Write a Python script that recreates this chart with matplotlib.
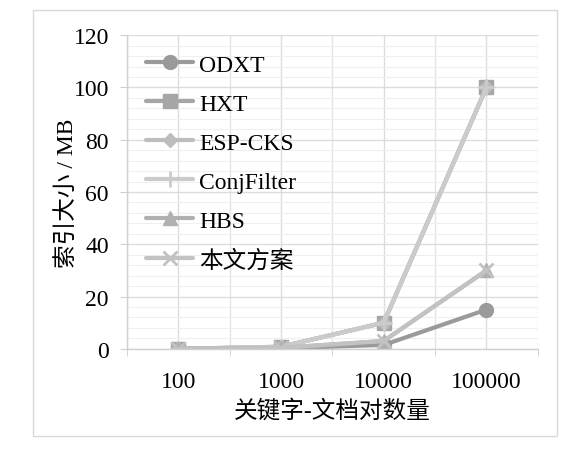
import numpy as np
from matplotlib import pyplot as plt
from matplotlib.patches import Rectangle

plt.rcParams['font.family'] = ['Liberation Serif', 'Noto Sans CJK SC']

# данные
categories = ['100', '1000', '10000', '100000']
odxt = [0, 0.2, 1.5, 15]
hxt = [0, 0.8, 10, 100]
esp_cks = [0, 0.8, 10, 100]
conjfilter = [0, 0.8, 10, 100]
hbs = [0, 0.4, 3, 30]
ours = [0, 0.4, 3, 30]

series = [
    ('ODXT', odxt, '#9a9a9a', 'o', 10),
    ('HXT', hxt, '#a6a6a6', 's', 9.5),
    ('ESP-CKS', esp_cks, '#bdbdbd', 'D', 7.5),
    ('ConjFilter', conjfilter, '#cbcbcb', '+', 11),
    ('HBS', hbs, '#b0b0b0', '^', 10),
    ('本文方案', ours, '#c2c2c2', 'x', 10),
]

fig = plt.figure(figsize=(5.77, 4.52), dpi=100)
ax = fig.add_axes([0.220, 0.226, 0.712, 0.694])

x = np.arange(len(categories))
for name, vals, col, mk, ms in series:
    ax.plot(x, vals, color=col, lw=3, marker=mk, ms=ms,
            mew=2 if mk in '+x' else 1, mec=col, mfc=col, label=name,
            solid_capstyle='round')

# оси
ax.set_xlim(-0.5, 3.5)
ax.set_ylim(0, 120)
ax.set_yticks(np.arange(0, 121, 20))
ax.set_yticks(np.arange(0, 121, 4), minor=True)
ax.set_xticks(x)
ax.set_xticklabels(categories)
ax.set_xticks(np.arange(-0.5, 3.6, 1), minor=True)

ax.grid(True, which='major', color='#dcdcdc', lw=1)
ax.grid(True, which='minor', axis='y', color='#efefef', lw=0.8)
ax.grid(True, which='minor', axis='x', color='#e4e4e4', lw=1)
ax.set_axisbelow(True)

for s in ['top', 'right']:
    ax.spines[s].set_visible(False)
for s in ['left', 'bottom']:
    ax.spines[s].set_color('#d0d0d0')
    ax.spines[s].set_linewidth(1)

ax.tick_params(axis='y', which='major', length=5, color='#d0d0d0',
               labelsize=17, pad=8)
ax.tick_params(axis='y', which='minor', length=0)
ax.tick_params(axis='x', which='major', length=0, labelsize=17, pad=16)
ax.tick_params(axis='x', which='minor', length=5, color='#d0d0d0')

ax.set_xlabel('关键字-文档对数量', fontsize=17, labelpad=5)
ax.set_ylabel('索引大小 / MB', fontsize=17, labelpad=-3)

ax.legend(loc='upper left', bbox_to_anchor=(0.047, 0.94), frameon=False,
          fontsize=17, handlelength=2.0, labelspacing=0.74,
          handletextpad=0.25, borderaxespad=0.0, borderpad=0.0)

# рамка вокруг рисунка
fig.patches.append(Rectangle((33 / 577, 1 - 437 / 452), 524 / 577, 426 / 452,
                             transform=fig.transFigure, fill=False,
                             edgecolor='#d9d9d9', lw=1))

plt.savefig('out.png', dpi=100)
